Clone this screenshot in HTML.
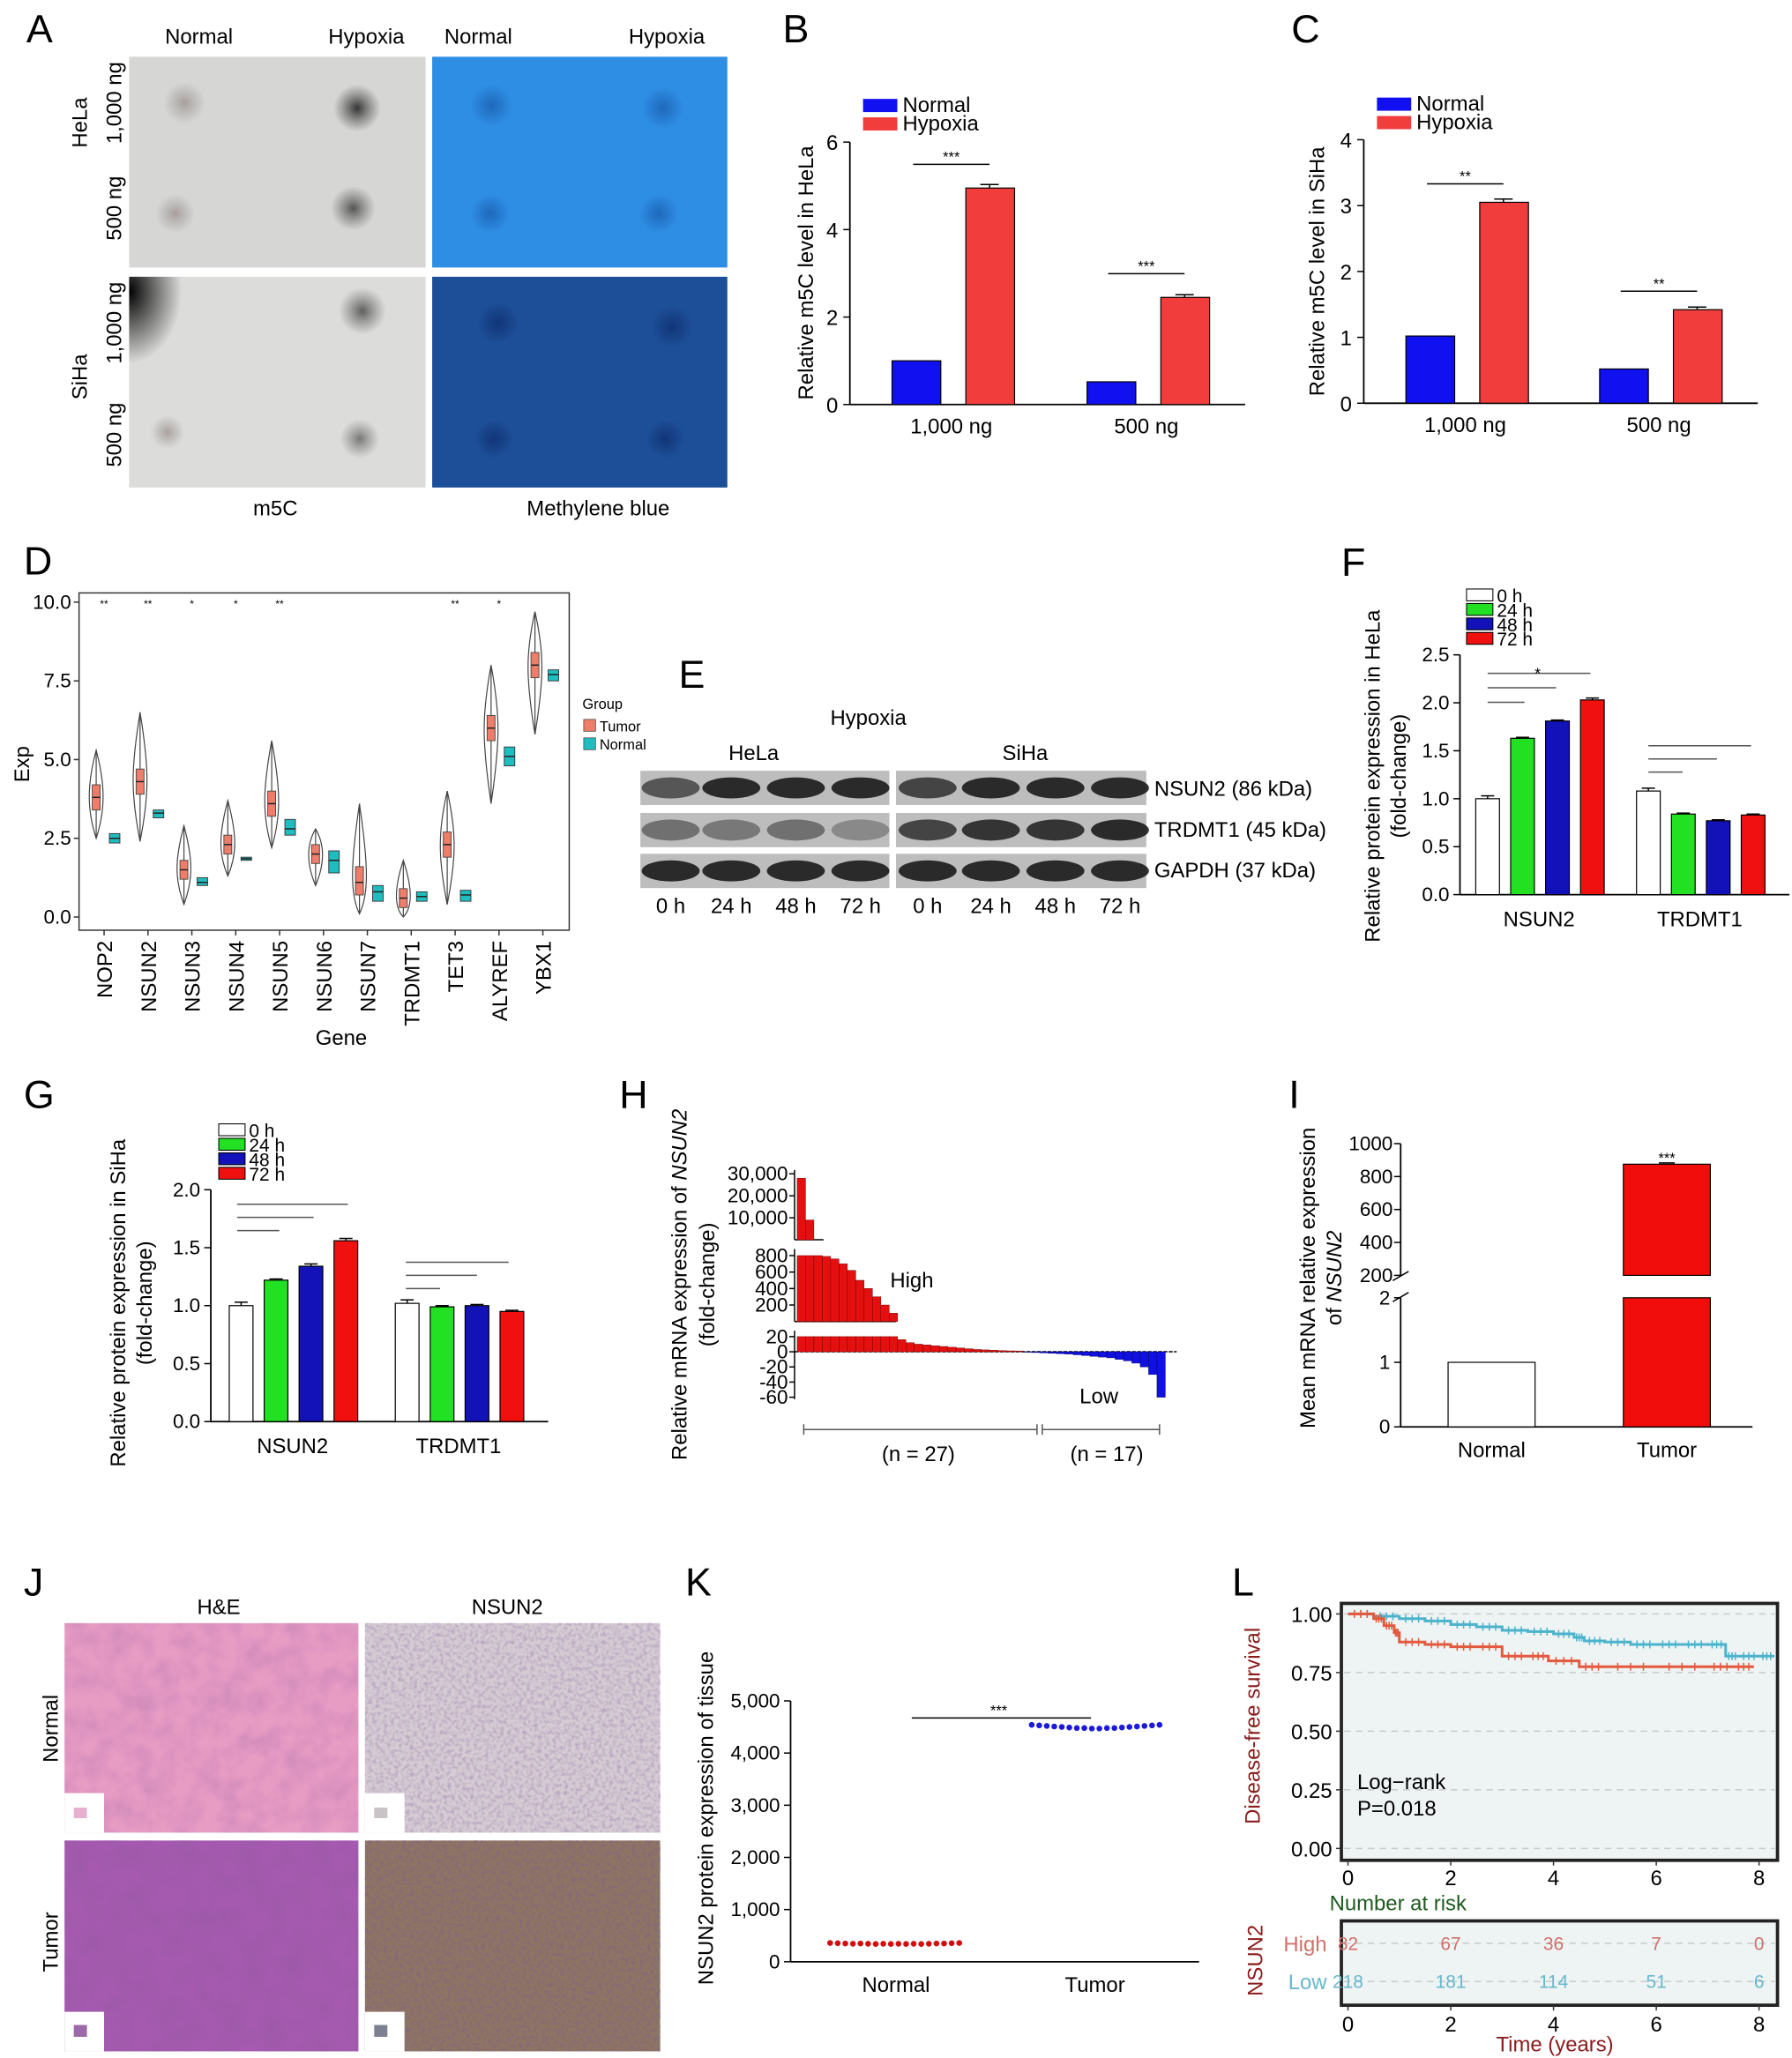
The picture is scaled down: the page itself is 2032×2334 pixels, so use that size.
<!DOCTYPE html>
<html><head><meta charset="utf-8">
<style>
html,body{margin:0;padding:0;background:#fff;}
svg{display:block;font-family:"Liberation Sans",Arial,sans-serif;}
</style></head>
<body>
<svg id="fig" width="2032" height="2334" viewBox="0 0 1360 1562" xmlns="http://www.w3.org/2000/svg">
<defs>
<filter id="noise" x="0" y="0" width="100%" height="100%">
<feTurbulence type="fractalNoise" baseFrequency="0.35" numOctaves="2" seed="3"/>
<feColorMatrix type="matrix" values="0 0 0 0 0.2  0 0 0 0 0.1  0 0 0 0 0.3  0 0 0 1.1 -0.45"/>
</filter>
<filter id="noise2" x="0" y="0" width="100%" height="100%">
<feTurbulence type="fractalNoise" baseFrequency="0.06" numOctaves="3" seed="7"/>
<feColorMatrix type="matrix" values="0 0 0 0 0.3  0 0 0 0 0.1  0 0 0 0 0.35  0 0 0 0.9 -0.3"/>
</filter>
<radialGradient id="dotDark"><stop offset="0" stop-color="#222" stop-opacity="0.9"/><stop offset="1" stop-color="#444" stop-opacity="0"/></radialGradient>
<radialGradient id="dotLight"><stop offset="0" stop-color="#8a7a78" stop-opacity="0.6"/><stop offset="1" stop-color="#888" stop-opacity="0"/></radialGradient>
<radialGradient id="dotBlue"><stop offset="0" stop-color="#1a5fb0" stop-opacity="0.8"/><stop offset="1" stop-color="#1a5fb0" stop-opacity="0"/></radialGradient>
<radialGradient id="dotBlue2"><stop offset="0" stop-color="#0e2f70" stop-opacity="0.8"/><stop offset="1" stop-color="#0e2f70" stop-opacity="0"/></radialGradient>
<radialGradient id="corner" cx="0" cy="0.1" r="0.5"><stop offset="0" stop-color="#000"/><stop offset="1" stop-color="#000" stop-opacity="0"/></radialGradient>
</defs>

<g font-size="30" fill="#000">
<text x="20" y="32">A</text>
<text x="594" y="32">B</text>
<text x="980" y="32">C</text>
<text x="18" y="436">D</text>
<text x="515" y="522">E</text>
<text x="1018" y="437">F</text>
<text x="18" y="841">G</text>
<text x="470" y="841">H</text>
<text x="978" y="841">I</text>
<text x="18" y="1211">J</text>
<text x="520" y="1211">K</text>
<text x="935" y="1211">L</text>
</g>

<g font-size="16">
<text x="151" y="33" text-anchor="middle">Normal</text>
<text x="278" y="33" text-anchor="middle">Hypoxia</text>
<text x="363" y="33" text-anchor="middle">Normal</text>
<text x="506" y="33" text-anchor="middle">Hypoxia</text>
<rect x="98" y="43" width="225" height="160" fill="#d6d6d4"/>
<rect x="328" y="43" width="224" height="160" fill="#2e8ee4"/>
<rect x="98" y="210" width="225" height="160" fill="#dcdcda"/>
<rect x="98" y="210" width="80" height="110" fill="url(#corner)"/>
<rect x="328" y="210" width="224" height="160" fill="#1d4f98"/>
<circle cx="140" cy="78" r="16" fill="url(#dotLight)"/>
<circle cx="271" cy="82" r="18" fill="url(#dotDark)"/>
<circle cx="133" cy="162" r="15" fill="url(#dotLight)"/>
<circle cx="268" cy="158" r="17" fill="url(#dotDark)" opacity="0.8"/>
<circle cx="275" cy="236" r="18" fill="url(#dotDark)" opacity="0.75"/>
<circle cx="127" cy="328" r="13" fill="url(#dotLight)"/>
<circle cx="273" cy="333" r="15" fill="url(#dotDark)" opacity="0.6"/>
<circle cx="373" cy="80" r="16" fill="url(#dotBlue)"/>
<circle cx="503" cy="82" r="16" fill="url(#dotBlue)"/>
<circle cx="372" cy="162" r="15" fill="url(#dotBlue)"/>
<circle cx="500" cy="162" r="15" fill="url(#dotBlue)"/>
<circle cx="378" cy="245" r="16" fill="url(#dotBlue2)"/>
<circle cx="510" cy="248" r="16" fill="url(#dotBlue2)"/>
<circle cx="375" cy="333" r="15" fill="url(#dotBlue2)"/>
<circle cx="505" cy="333" r="15" fill="url(#dotBlue2)"/>
<text transform="translate(66,93) rotate(-90)" text-anchor="middle">HeLa</text>
<text transform="translate(92,78) rotate(-90)" text-anchor="middle">1,000 ng</text>
<text transform="translate(92,158) rotate(-90)" text-anchor="middle">500 ng</text>
<text transform="translate(66,286) rotate(-90)" text-anchor="middle">SiHa</text>
<text transform="translate(92,245) rotate(-90)" text-anchor="middle">1,000 ng</text>
<text transform="translate(92,330) rotate(-90)" text-anchor="middle">500 ng</text>
<text x="209" y="391" text-anchor="middle">m5C</text>
<text x="454" y="391" text-anchor="middle">Methylene blue</text>
</g>

<g font-size="16">
<text x="659" y="550" text-anchor="middle">Hypoxia</text>
<text x="572" y="577" text-anchor="middle">HeLa</text>
<text x="778" y="577" text-anchor="middle">SiHa</text>
<g id="blots"></g>
<text x="876" y="604">NSUN2 (86 kDa)</text>
<text x="876" y="635">TRDMT1 (45 kDa)</text>
<text x="876" y="666">GAPDH (37 kDa)</text>
</g>

<g font-size="16">
<text x="166" y="1225" text-anchor="middle">H&amp;E</text>
<text x="385" y="1225" text-anchor="middle">NSUN2</text>
<text transform="translate(44,1312) rotate(-90)" text-anchor="middle">Normal</text>
<text transform="translate(44,1474) rotate(-90)" text-anchor="middle">Tumor</text>
<rect x="49" y="1232" width="223" height="159" fill="#e79cc4"/>
<rect x="49" y="1232" width="223" height="159" filter="url(#noise2)" opacity="0.5"/>
<rect x="277" y="1232" width="224" height="159" fill="#d6cbd4"/>
<rect x="277" y="1232" width="224" height="159" filter="url(#noise)" opacity="0.7"/>
<rect x="49" y="1397" width="223" height="160" fill="#a55ab0"/>
<rect x="49" y="1397" width="223" height="160" filter="url(#noise2)" opacity="0.9"/>
<rect x="277" y="1397" width="224" height="160" fill="#8e7462"/>
<rect x="277" y="1397" width="224" height="160" filter="url(#noise)" opacity="1"/>
<rect x="49" y="1361" width="30" height="30" fill="#fff"/><rect x="56" y="1372" width="10" height="8" fill="#e6b0cf"/>
<rect x="277" y="1361" width="30" height="30" fill="#fff"/><rect x="284" y="1372" width="10" height="8" fill="#c9c2c7"/>
<rect x="49" y="1527" width="30" height="30" fill="#fff"/><rect x="56" y="1537" width="10" height="9" fill="#9c6aa8"/>
<rect x="277" y="1527" width="30" height="30" fill="#fff"/><rect x="284" y="1537" width="10" height="9" fill="#7d8090"/>
</g>

<g id="charts"></g>
</svg>

<script>
const NS='http://www.w3.org/2000/svg';
const root=document.getElementById('charts');
function mk(tag,a,p){const e=document.createElementNS(NS,tag);for(const k in a)e.setAttribute(k,a[k]);(p||root).appendChild(e);return e;}
function tx(x,y,s,size,anchor,p,rot,fill){const e=mk('text',{x:x,y:y,'font-size':size,'text-anchor':anchor||'start',fill:fill||'#000'},p);if(rot){e.setAttribute('transform','rotate('+rot+' '+x+' '+y+')');}e.textContent=s;return e;}
function grp(){return mk('g',{});}

// ---------- Panel B ----------
const bCategories=['1,000 ng','500 ng'];
const bNormal=[1.0,0.52];
const bHypoxia=[4.95,2.45];
const bHypErr=[0.08,0.06];
const bTicks=[0,2,4,6];
const bSig=['***','***'];
// ---------- Panel C ----------
const cCategories=['1,000 ng','500 ng'];
const cNormal=[1.02,0.52];
const cHypoxia=[3.05,1.42];
const cHypErr=[0.05,0.04];
const cTicks=[0,1,2,3,4];
const cSig=['**','**'];

function m5cPanel(name,cats,nor,hyp,err,ticks,sig,ax,y0,unit,centers,ylab,lx,sigY){
  const g=grp();
  const y=v=>y0-v*unit;
  mk('line',{x1:ax,y1:y(ticks[ticks.length-1]),x2:ax,y2:y0,stroke:'#000','stroke-width':1.2},g);
  mk('line',{x1:ax,y1:y0,x2:centers[1]+75,y2:y0,stroke:'#000','stroke-width':1.2},g);
  ticks.forEach(t=>{mk('line',{x1:ax-5,y1:y(t),x2:ax,y2:y(t),stroke:'#000'},g);tx(ax-9,y(t)+6,String(t),16,'end',g);});
  cats.forEach((c,i)=>{
    const cx=centers[i];
    const r1=mk('rect',{x:cx-45,y:y(nor[i]),width:37,height:nor[i]*unit,fill:'#1010f0',stroke:'#000','stroke-width':0.8},g);
    
    const r2=mk('rect',{x:cx+11,y:y(hyp[i]),width:37,height:hyp[i]*unit,fill:'#f23d3d',stroke:'#000','stroke-width':0.8},g);
    
    mk('line',{x1:cx+29,y1:y(hyp[i]+err[i]),x2:cx+29,y2:y(hyp[i]),stroke:'#000'},g);
    mk('line',{x1:cx+22,y1:y(hyp[i]+err[i]),x2:cx+36,y2:y(hyp[i]+err[i]),stroke:'#000'},g);
    const sy=y(hyp[i])-sigY;
    mk('line',{x1:cx-29,y1:sy,x2:cx+29,y2:sy,stroke:'#000'},g);
    tx(cx,sy-2,sig[i],11,'middle',g);
    tx(cx,y0+22,c,16,'middle',g);
  });
  tx(lx,y0-100,ylab,16,'middle',g,-90);
  mk('rect',{x:ax+10,y:y0-232,width:26,height:10,fill:'#1010f0'},g);
  tx(ax+40,y0-222,'Normal',16,'start',g);
  mk('rect',{x:ax+10,y:y0-218,width:26,height:10,fill:'#f23d3d'},g);
  tx(ax+40,y0-208,'Hypoxia',16,'start',g);
}
m5cPanel('panel-b-chart',bCategories,bNormal,bHypoxia,bHypErr,bTicks,bSig,645,307,33.2,[722,870],'Relative m5C level in HeLa',617,18);
m5cPanel('panel-c-chart',cCategories,cNormal,cHypoxia,cHypErr,cTicks,cSig,1035,306,50,[1112,1259],'Relative m5C level in SiHa',1005,14);

// ---------- Panel D ----------
const dGenes=['NOP2','NSUN2','NSUN3','NSUN4','NSUN5','NSUN6','NSUN7','TRDMT1','TET3','ALYREF','YBX1'];
const dTumorMed=[3.8,4.3,1.5,2.3,3.6,2.0,1.1,0.6,2.3,6.0,8.0];
const dTumorQ1=[3.4,3.9,1.2,2.0,3.2,1.7,0.7,0.3,1.9,5.6,7.6];
const dTumorQ3=[4.2,4.7,1.8,2.6,4.0,2.3,1.6,0.9,2.7,6.4,8.4];
const dTumorMin=[2.5,2.4,0.4,1.3,2.2,1.0,0.1,0.0,0.4,3.6,5.8];
const dTumorMax=[5.3,6.5,2.9,3.7,5.6,2.8,3.6,1.8,4.0,8.0,9.7];
const dNormalMed=[2.5,3.3,1.1,1.85,2.8,1.8,0.8,0.65,0.7,5.1,7.7];
const dNormalQ1=[2.45,3.2,1.05,1.8,2.7,1.65,0.65,0.55,0.6,4.9,7.6];
const dNormalQ3=[2.6,3.35,1.2,1.9,2.95,1.95,0.95,0.75,0.8,5.3,7.8];
const dNormalMin=[2.35,3.15,1.0,1.8,2.6,1.4,0.5,0.5,0.5,4.8,7.5];
const dNormalMax=[2.65,3.4,1.25,1.9,3.1,2.1,1.0,0.8,0.85,5.4,7.85];
const dStars=['**','**','*','*','**','','','','**','*',''];
const dTicks=[0,2.5,5,7.5,10];
(function(){
  const g=grp();
  const y=v=>696-v*23.9;
  const x=i=>79+i*33.3;
  mk('rect',{x:60,y:450,width:372,height:256,fill:'#fff',stroke:'#333','stroke-width':1},g);
  dTicks.forEach(t=>{mk('line',{x1:56,y1:y(t),x2:60,y2:y(t),stroke:'#333'},g);tx(54,y(t)+5,t.toFixed(1),15,'end',g);});
  dGenes.forEach((gn,i)=>{
    const tX=x(i)-6, nX=x(i)+8;
    const w=7;
    const v=mk('path',{d:`M${tX},${y(dTumorMin[i])} C${tX+w},${y(dTumorQ1[i])} ${tX+w},${y(dTumorQ3[i])} ${tX},${y(dTumorMax[i])} C${tX-w},${y(dTumorQ3[i])} ${tX-w},${y(dTumorQ1[i])} ${tX},${y(dTumorMin[i])}Z`,fill:'#fff',stroke:'#444','stroke-width':0.8},g);
    
    mk('line',{x1:tX,y1:y(dTumorMin[i]),x2:tX,y2:y(dTumorMax[i]),stroke:'#444','stroke-width':0.8},g);
    mk('rect',{x:tX-3,y:y(dTumorQ3[i]),width:6,height:(dTumorQ3[i]-dTumorQ1[i])*23.9,fill:'#ee7d6a',stroke:'#444','stroke-width':0.6},g);
    mk('line',{x1:tX-3,y1:y(dTumorMed[i]),x2:tX+3,y2:y(dTumorMed[i]),stroke:'#222'},g);
    const n=mk('rect',{x:nX-4,y:y(dNormalMax[i]),width:8,height:Math.max(2,(dNormalMax[i]-dNormalMin[i])*23.9),fill:'#1fbdbf',stroke:'#333','stroke-width':0.6},g);
    
    mk('line',{x1:nX-4,y1:y(dNormalMed[i]),x2:nX+4,y2:y(dNormalMed[i]),stroke:'#222'},g);
    if(dStars[i])tx(x(i),461,dStars[i],8,'middle',g);
    mk('line',{x1:x(i),y1:706,x2:x(i),y2:710,stroke:'#333'},g);
    tx(x(i)+6,714,gn,16,'end',g,-90);
  });
  tx(259,793,'Gene',16,'middle',g);
  tx(22,580,'Exp',16,'middle',g,-90);
  tx(442,538,'Group',11,'start',g);
  mk('rect',{x:443,y:546,width:9,height:9,fill:'#ee7d6a',stroke:'#444','stroke-width':0.5},g);
  tx(455,555,'Tumor',11,'start',g);
  mk('rect',{x:443,y:560,width:9,height:9,fill:'#1fbdbf',stroke:'#444','stroke-width':0.5},g);
  tx(455,569,'Normal',11,'start',g);
})();

// ---------- Panel E blots ----------
const eLanes=['0 h','24 h','48 h','72 h','0 h','24 h','48 h','72 h'];
const eNsun2=[0.6,0.85,0.85,0.85,0.7,0.85,0.85,0.85];
const eTrdmt1=[0.45,0.4,0.45,0.3,0.7,0.8,0.8,0.85];
const eGapdh=[0.85,0.85,0.85,0.85,0.85,0.85,0.85,0.85];
(function(){
  const g=document.getElementById('blots');
  const lx=[509,555,604,653,704,752,801,850];
  const rows=[[585,eNsun2,'nsun2'],[617,eTrdmt1,'trdmt1'],[648,eGapdh,'gapdh']];
  rows.forEach(r=>{
    [[486,189],[680,190]].forEach(s=>{mk('rect',{x:s[0],y:r[0],width:s[1],height:26,fill:'#bdbdbd'},g);});
    r[1].forEach((v,i)=>{
      const e=mk('ellipse',{cx:lx[i],cy:r[0]+13,rx:22,ry:8,fill:'#111','fill-opacity':v},g);
      
    });
  });
  eLanes.forEach((l,i)=>tx(lx[i],693,l,16,'middle',g));
})();

// ---------- Panels F and G ----------
const timeLabels=['0 h','24 h','48 h','72 h'];
const fGenes=['NSUN2','TRDMT1'];
const fVals=[[1.0,1.63,1.81,2.03],[1.08,0.84,0.77,0.83]];
const fErr=[[0.03,0.01,0.01,0.02],[0.03,0.01,0.01,0.01]];
const fTicks=[0,0.5,1.0,1.5,2.0,2.5];
const gGenes=['NSUN2','TRDMT1'];
const gVals=[[1.0,1.22,1.34,1.56],[1.02,0.99,1.0,0.95]];
const gErr=[[0.03,0.01,0.02,0.02],[0.03,0.01,0.01,0.01]];
const gTicks=[0,0.5,1.0,1.5,2.0];
const barColors=['#ffffff','#22e022','#1212b8','#f01010'];
function timePanel(name,genes,vals,errs,ticks,ax,y0,unit,starts,lab1,lab2,labX,legX,legY,sigLines,star){
  const g=grp();
  const y=v=>y0-v*unit;
  mk('line',{x1:ax,y1:y(ticks[ticks.length-1]),x2:ax,y2:y0,stroke:'#000','stroke-width':1.2},g);
  mk('line',{x1:ax,y1:y0,x2:starts[1]+116,y2:y0,stroke:'#000','stroke-width':1.2},g);
  ticks.forEach(t=>{mk('line',{x1:ax-5,y1:y(t),x2:ax,y2:y(t),stroke:'#000'},g);tx(ax-8,y(t)+5,t.toFixed(1),15,'end',g);});
  genes.forEach((gn,gi)=>{
    vals[gi].forEach((v,k)=>{
      const bx=starts[gi]+k*26.5;
      const r=mk('rect',{x:bx,y:y(v),width:18,height:v*unit,fill:barColors[k],stroke:'#000','stroke-width':0.8},g);
      
      const e=errs[gi][k];
      mk('line',{x1:bx+9,y1:y(v+e),x2:bx+9,y2:y(v),stroke:'#000'},g);
      mk('line',{x1:bx+4,y1:y(v+e),x2:bx+14,y2:y(v+e),stroke:'#000'},g);
    });
    tx(starts[gi]+48,y0+24,gn,16,'middle',g);
  });
  sigLines.forEach(s=>mk('line',{x1:s[0],y1:s[2],x2:s[1],y2:s[2],stroke:'#555','stroke-width':1},g));
  if(star)tx(star[0],star[1],'*',12,'middle',g);
  tx(labX,y0-90,lab1,16,'middle',g,-90);
  tx(labX+20,y0-90,lab2,16,'middle',g,-90);
  timeLabels.forEach((t,k)=>{
    mk('rect',{x:legX,y:legY+k*11,width:20,height:9,fill:barColors[k],stroke:'#000','stroke-width':0.7},g);
    tx(legX+23,legY+k*11+10,t,14,'start',g);
  });
}
timePanel('panel-f-chart',fGenes,fVals,fErr,fTicks,1108,679,72.8,[1120,1242],'Relative protein expression  in HeLa','(fold-change)',1047,1113,447,
  [[1129,1157,533],[1129,1181,522],[1129,1207,511],[1251,1277,586],[1251,1303,576],[1251,1329,566]],[1167,515]);
timePanel('panel-g-chart',gGenes,gVals,gErr,gTicks,160,1079,88,[174,300],'Relative protein expression in SiHa','(fold-change)',95,166,853,
  [[180,212,934],[180,238,924],[180,264,914],[308,334,978],[308,362,968],[308,386,958]],null);

// ---------- Panel H waterfall ----------
const hValues=[28000,9000,800,790,760,700,620,500,400,300,200,100,16,12,10,9,8,7,6,5,4,3,2.5,2,1.5,1.2,1.05,
 -0.5,-1,-1.5,-2,-2.5,-3,-4,-5,-6,-7,-8,-10,-12,-15,-20,-30,-60];
const hTopTicks=[10000,20000,30000];
const hMidTicks=[200,400,600,800];
const hLowTicks=[20,0,-20,-40,-60];
(function(){
  const g=grp();
  const ax=603, bw=6.35, x0=605;
  const yTop=v=>941-v*0.00167, yMid=v=>1003-v*0.0625, yLow=v=>1026-v*0.575;
  mk('line',{x1:ax,y1:888,x2:ax,y2:941,stroke:'#000'},g);
  mk('line',{x1:ax,y1:948,x2:ax,y2:1003,stroke:'#000'},g);
  mk('line',{x1:ax,y1:1010,x2:ax,y2:1062,stroke:'#000'},g);
  mk('line',{x1:ax,y1:941,x2:625,y2:941,stroke:'#000'},g);
  mk('line',{x1:ax,y1:1003,x2:680,y2:1003,stroke:'#000'},g);
  mk('line',{x1:ax,y1:1026,x2:893,y2:1026,stroke:'#000','stroke-dasharray':'3,1'},g);
  hTopTicks.forEach(t=>{mk('line',{x1:ax-4,y1:yTop(t),x2:ax,y2:yTop(t),stroke:'#000'},g);tx(ax-5,yTop(t)+5,t.toLocaleString('en-US'),15,'end',g);});
  hMidTicks.forEach(t=>{mk('line',{x1:ax-4,y1:yMid(t),x2:ax,y2:yMid(t),stroke:'#000'},g);tx(ax-5,yMid(t)+5,String(t),15,'end',g);});
  hLowTicks.forEach(t=>{mk('line',{x1:ax-4,y1:yLow(t),x2:ax,y2:yLow(t),stroke:'#000'},g);tx(ax-5,yLow(t)+5,String(t),15,'end',g);});
  hValues.forEach((v,i)=>{
    const bx=x0+i*bw, col=v>0?'#e41010':'#1010e0';
    if(v>800){mk('rect',{x:bx,y:yTop(v),width:bw,height:941-yTop(v),fill:col,stroke:'#600','stroke-width':0.3},g);}
    if(v>20){const vv=Math.min(v,800);mk('rect',{x:bx,y:yMid(vv),width:bw,height:1003-yMid(vv),fill:col,stroke:'#600','stroke-width':0.3},g);}
    const lv=Math.max(-60,Math.min(20,v));
    const r=mk('rect',{x:bx,y:Math.min(yLow(lv),1026),width:bw,height:Math.abs(lv)*0.575,fill:col,stroke:v>0?'#600':'#006','stroke-width':0.3},g);
    
  });
  tx(692,977,'High',16,'middle',g);
  tx(834,1065,'Low',16,'middle',g);
  mk('line',{x1:610,y1:1085,x2:787,y2:1085,stroke:'#555'},g);
  mk('line',{x1:610,y1:1081,x2:610,y2:1089,stroke:'#555'},g);
  mk('line',{x1:787,y1:1081,x2:787,y2:1089,stroke:'#555'},g);
  mk('line',{x1:791,y1:1085,x2:880,y2:1085,stroke:'#555'},g);
  mk('line',{x1:791,y1:1081,x2:791,y2:1089,stroke:'#555'},g);
  mk('line',{x1:880,y1:1081,x2:880,y2:1089,stroke:'#555'},g);
  tx(697,1109,'(n = 27)',16,'middle',g);
  tx(840,1109,'(n = 17)',16,'middle',g);
  const t1=mk('text',{'font-size':16,transform:'translate(521,975) rotate(-90)','text-anchor':'middle'},g);
  t1.innerHTML='Relative mRNA expression of <tspan font-style="italic">NSUN2</tspan>';
  tx(542,975,'(fold-change)',16,'middle',g,-90);
})();

// ---------- Panel I ----------
const iCategories=['Normal','Tumor'];
const iValues=[1,875];
const iTopTicks=[200,400,600,800,1000];
const iLowTicks=[0,1,2];
(function(){
  const g=grp();
  const ax=1063, yT=v=>968-(v-200)*0.125, yL=v=>1083-v*49;
  mk('line',{x1:ax,y1:868,x2:ax,y2:968,stroke:'#000','stroke-width':1.2},g);
  mk('line',{x1:ax,y1:985,x2:ax,y2:1083,stroke:'#000','stroke-width':1.2},g);
  mk('line',{x1:ax,y1:1083,x2:1330,y2:1083,stroke:'#000','stroke-width':1.2},g);
  mk('line',{x1:ax-6,y1:972,x2:ax+6,y2:965,stroke:'#000'},g);
  mk('line',{x1:ax-6,y1:988,x2:ax+6,y2:981,stroke:'#000'},g);
  iTopTicks.forEach(t=>{mk('line',{x1:ax-5,y1:yT(t),x2:ax,y2:yT(t),stroke:'#000'},g);tx(ax-6,yT(t)+5,String(t),15,'end',g);});
  iLowTicks.forEach(t=>{mk('line',{x1:ax-5,y1:yL(t),x2:ax,y2:yL(t),stroke:'#000'},g);tx(ax-8,yL(t)+5,String(t),15,'end',g);});
  const cx=[1132,1265];
  iValues.forEach((v,i)=>{
    const fill=i===0?'#fff':'#f20d0d';
    if(v<=2){const r=mk('rect',{x:cx[i]-33,y:yL(v),width:66,height:v*49,fill:fill,stroke:'#000','stroke-width':0.8},g);}
    else{
      const r=mk('rect',{x:cx[i]-33,y:yL(2),width:66,height:2*49,fill:fill,stroke:'#000','stroke-width':0.8},g);
      
      mk('rect',{x:cx[i]-33,y:yT(v),width:66,height:968-yT(v),fill:fill,stroke:'#000','stroke-width':0.8},g);
      mk('line',{x1:cx[i]-6,y1:yT(v+8),x2:cx[i]+6,y2:yT(v+8),stroke:'#000'},g);
      tx(cx[i],yT(v)-1,'***',11,'middle',g);
    }
    tx(cx[i],1106,iCategories[i],16,'middle',g);
  });
  tx(998,970,'Mean mRNA relative expression',16,'middle',g,-90);
  const t=mk('text',{'font-size':16,transform:'translate(1018,970) rotate(-90)','text-anchor':'middle'},g);
  t.innerHTML='of <tspan font-style="italic">NSUN2</tspan>';
})();

// ---------- Panel K ----------
const kNormal=[360,355,350,345,350,345,340,345,340,345,340,345,340,345,350,350,355,360];
const kTumor=[4540,4530,4520,4510,4500,4490,4480,4480,4470,4470,4480,4480,4490,4500,4510,4520,4530,4540];
const kTicks=[0,1000,2000,3000,4000,5000];
(function(){
  const g=grp();
  const ax=600, y=v=>1489-v*0.0396;
  mk('line',{x1:ax,y1:y(5000),x2:ax,y2:1489,stroke:'#000','stroke-width':1.2},g);
  mk('line',{x1:ax,y1:1489,x2:910,y2:1489,stroke:'#000','stroke-width':1.2},g);
  kTicks.forEach(t=>{mk('line',{x1:ax-5,y1:y(t),x2:ax,y2:y(t),stroke:'#000'},g);tx(ax-8,y(t)+5,t.toLocaleString('en-US'),15,'end',g);});
  kNormal.forEach((v,i)=>{const c=mk('circle',{cx:630+i*98/(kNormal.length-1),cy:y(v),r:2.2,fill:'#d01010'},g);});
  kTumor.forEach((v,i)=>{const c=mk('circle',{cx:783+i*97/(kTumor.length-1),cy:y(v),r:2.2,fill:'#1a1ad8'},g);});
  mk('line',{x1:692,y1:1304,x2:828,y2:1304,stroke:'#000'},g);
  tx(758,1302,'***',11,'middle',g);
  tx(680,1512,'Normal',16,'middle',g);
  tx(831,1512,'Tumor',16,'middle',g);
  tx(541,1380,'NSUN2 protein expression of tissue',16,'middle',g,-90);
})();

// ---------- Panel L ----------
const lowTimes=[0,0.5,1,1.5,2,2.5,3,3.5,4,4.4,4.6,5,5.5,6,6.5,7,7.35,7.6,8,8.3];
const lowSurv=[1,0.99,0.98,0.97,0.955,0.945,0.93,0.925,0.915,0.9,0.885,0.88,0.87,0.87,0.87,0.87,0.82,0.82,0.82,0.82];
const highTimes=[0,0.5,0.7,0.9,1,1.5,2,2.5,3,3.5,3.9,4.5,5,6,7,7.5,7.9];
const highSurv=[1,0.98,0.95,0.92,0.88,0.87,0.86,0.86,0.82,0.82,0.8,0.775,0.775,0.775,0.775,0.775,0.775];
const riskTimes=[0,2,4,6,8];
const riskHigh=[82,67,36,7,0];
const riskLow=[218,181,114,51,6];
const lYTicks=[0,0.25,0.5,0.75,1.0];
(function(){
  const g=grp();
  const x=t=>1023+t*39, y=s=>1403-s*178;
  mk('rect',{x:1018,y:1217,width:331,height:195,fill:'#eef3f3',stroke:'#222','stroke-width':2.5},g);
  lYTicks.forEach(t=>{mk('line',{x1:1020,y1:y(t),x2:1347,y2:y(t),stroke:'#c8cccc','stroke-dasharray':'5,4'},g);
    mk('line',{x1:1014,y1:y(t),x2:1018,y2:y(t),stroke:'#333'},g);tx(1011,y(t)+6,t.toFixed(2),16,'end',g);});
  riskTimes.forEach(t=>{mk('line',{x1:x(t),y1:1412,x2:x(t),y2:1416,stroke:'#333'},g);tx(x(t),1431,String(t),16,'middle',g);});
  function curve(ts,ss,col,nm){
    let d='M'+x(ts[0])+','+y(ss[0]);
    for(let i=1;i<ts.length;i++){d+=' H'+x(ts[i])+' V'+y(ss[i]);}
    const p=mk('path',{d:d,fill:'none',stroke:col,'stroke-width':2},g);
    
    for(let i=0;i<ts.length-1;i++){for(let k=1;k<4;k++){const tt=ts[i]+(ts[i+1]-ts[i])*k/4;mk('line',{x1:x(tt),y1:y(ss[i])-3,x2:x(tt),y2:y(ss[i])+3,stroke:col,'stroke-width':1},g);}}
  }
  curve(lowTimes,lowSurv,'#4bb3cc','curve-low');
  curve(highTimes,highSurv,'#e4593d','curve-high');
  tx(1030,1358,'Log\u2212rank',16,'start',g);
  tx(1030,1378,'P=0.018',16,'start',g);
  tx(956,1310,'Disease-free survival',16,'middle',g,-90,'#8b1a1a');
  tx(1009,1450,'Number at risk',16,'start',g,0,'#1e5a1e');
  mk('rect',{x:1018,y:1458,width:331,height:64,fill:'#eef3f3',stroke:'#222','stroke-width':2.5},g);
  mk('line',{x1:1020,y1:1475,x2:1347,y2:1475,stroke:'#c8cccc','stroke-dasharray':'5,4'},g);
  mk('line',{x1:1020,y1:1504,x2:1347,y2:1504,stroke:'#c8cccc','stroke-dasharray':'5,4'},g);
  riskTimes.forEach((t,i)=>{
    tx(x(t),1480,String(riskHigh[i]),14,'middle',g,0,'#d0706a');
    tx(x(t),1509,String(riskLow[i]),14,'middle',g,0,'#68b8cc');
    mk('line',{x1:x(t),y1:1522,x2:x(t),y2:1526,stroke:'#333'},g);
    tx(x(t),1542,String(t),16,'middle',g);
  });
  tx(1007,1481,'High',16,'end',g,0,'#d0706a');
  tx(1007,1510,'Low',16,'end',g,0,'#68b8cc');
  tx(958,1488,'NSUN2',16,'middle',g,-90,'#8b1a1a');
  tx(1180,1557,'Time (years)',16,'middle',g,0,'#8b1a1a');
})();
</script>
</body></html>
